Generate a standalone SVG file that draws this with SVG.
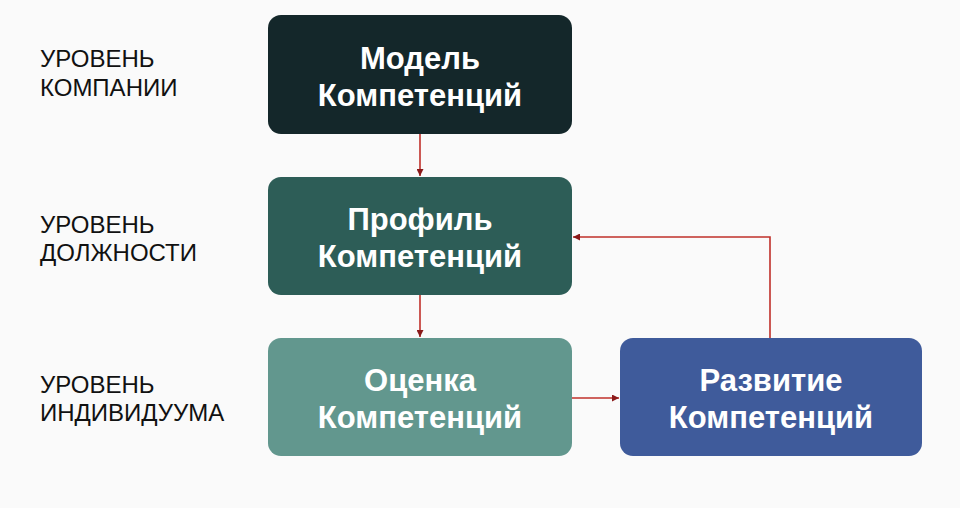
<svg xmlns="http://www.w3.org/2000/svg" width="960" height="508" viewBox="0 0 960 508">
<defs>
<style>
.box{stroke:none}
.t{font-family:"Liberation Sans",Arial,Helvetica,sans-serif;font-weight:bold;font-size:31px;fill:#ffffff;text-anchor:middle}
.lbl{font-family:"Liberation Sans",Arial,Helvetica,sans-serif;font-size:24px;fill:#111111}
.c{fill:none;stroke:#c0302a;stroke-width:1.6}
</style>
<marker id="ah" viewBox="0 0 10 10" refX="10" refY="5" markerWidth="7" markerHeight="7" orient="auto" markerUnits="userSpaceOnUse">
<path d="M0,0 L10,5 L0,10 z" fill="#8a1a1a"/>
</marker>
</defs>
<rect width="960" height="508" fill="#fafafa"/>
<g id="labels">
<text class="lbl" x="40" y="67">УРОВЕНЬ</text>
<text class="lbl" x="40" y="96">КОМПАНИИ</text>
<text class="lbl" x="40" y="233">УРОВЕНЬ</text>
<text class="lbl" x="40" y="261">ДОЛЖНОСТИ</text>
<text class="lbl" x="40" y="393">УРОВЕНЬ</text>
<text class="lbl" x="40" y="421">ИНДИВИДУУМА</text>
</g>
<g id="connectors">
<path class="c" d="M420,134 V176" marker-end="url(#ah)"/>
<path class="c" d="M420,295 V337" marker-end="url(#ah)"/>
<path class="c" d="M572,398 H619" marker-end="url(#ah)"/>
<path class="c" d="M770,338 V237 H573" marker-end="url(#ah)"/>
</g>
<g id="model">
<rect class="box" x="268" y="15" width="304" height="119" rx="13" fill="#14272a"/>
<text class="t" x="420" y="69">Модель</text>
<text class="t" x="420" y="106">Компетенций</text>
</g>
<g id="profile">
<rect class="box" x="268" y="177" width="304" height="118" rx="13" fill="#2d5d57"/>
<text class="t" x="420" y="230">Профиль</text>
<text class="t" x="420" y="267">Компетенций</text>
</g>
<g id="assessment">
<rect class="box" x="268" y="338" width="304" height="118" rx="13" fill="#62978e"/>
<text class="t" x="420" y="391">Оценка</text>
<text class="t" x="420" y="428">Компетенций</text>
</g>
<g id="development">
<rect class="box" x="620" y="338" width="302" height="118" rx="13" fill="#3f5b9b"/>
<text class="t" x="771" y="391">Развитие</text>
<text class="t" x="771" y="428">Компетенций</text>
</g>
</svg>
